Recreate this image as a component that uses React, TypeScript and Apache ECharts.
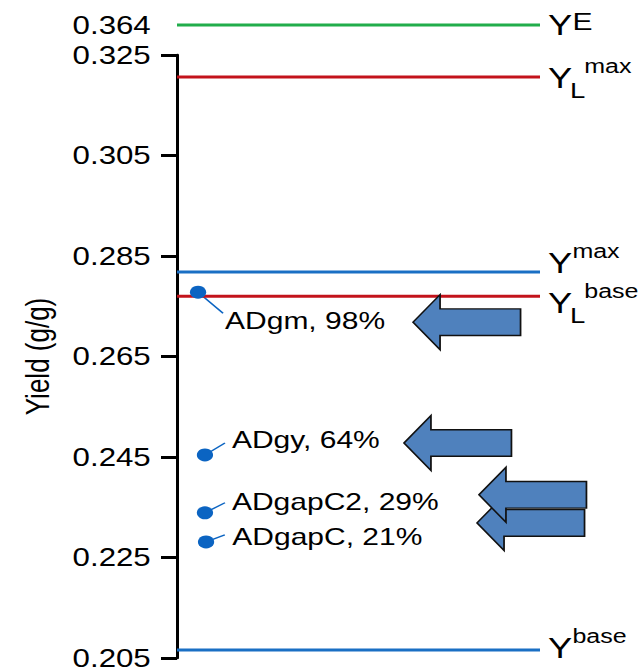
import React, { useEffect, useRef } from "react";
import * as echarts from "echarts";

// The reference figure is horizontally stretched; the chart is drawn narrower and stretched by CSS.
const STRETCH = 1.25;
const W = 644 / STRETCH;
const H = 671;
const FONT = "'Liberation Sans', Arial, Helvetica, sans-serif";

// Axis ticks
const tickValues = [0.205, 0.225, 0.245, 0.265, 0.285, 0.305, 0.325];
const brokenTickValues = [0.364];

// Reference lines
const refMain = ["Y", "Y", "Y", "Y", "Y"];
const refSub = ["", "L", "", "L", ""];
const refSup = ["E", "max", "max", "base", "base"];
const refValues = [0.364, 0.3206, 0.2818, 0.277, 0.2066];
const refColors = ["#21ad4b", "#c3131b", "#1a6fc4", "#c3131b", "#1a6fc4"];
const refOnBrokenAxis = [true, false, false, false, false];

// Strain points
const pointNames = ["ADgm", "ADgy", "ADgapC2", "ADgapC"];
const pointShares = ["98%", "64%", "29%", "21%"];
const pointYields = [0.2778, 0.2454, 0.2339, 0.2281];
const pointX = [0.058, 0.077, 0.077, 0.08];

// layout constants (pixels, unstretched)
const labelDelta = [[21.6, 28], [21.6, -15], [21.6, -11], [21, -5]];
const connDelta = [[20, 21], [16, -12], [16, -10], [15, -7]];
const arrowTipDelta = [[172, 30], [159.2, -12], [219.2, -18], [216.8, -19]];
const arrowOrder = [0, 1, 3, 2];
const refYBaseline = [10, 11, 1, 17, 8];

const POINT_BLUE = "#0b64c2";
const SYM = 13;
const SUP_FS = 20;

export default function App() {
  const ref = useRef<HTMLDivElement>(null);
  useEffect(() => {
    if (!ref.current) return;
    const chart = echarts.init(ref.current, null, { renderer: "svg" });
    const gridLeft = 141.6;
    const gridWidth = 290.4;
    const series: any[] = [];
    refValues.forEach((v, i) => {
      const top = refOnBrokenAxis[i];
      series.push({
        type: "line",
        xAxisIndex: top ? 1 : 0,
        yAxisIndex: top ? 1 : 0,
        data: [
          [0, v],
          [1, v],
        ],
        symbol: "none",
        lineStyle: { color: refColors[i], width: 3 },
        silent: true,
        z: 1,
      });
    });
    series.push({
      type: "scatter",
      xAxisIndex: 0,
      yAxisIndex: 0,
      symbolSize: SYM,
      itemStyle: { color: POINT_BLUE, opacity: 1 },
      z: 5,
      data: pointYields.map((v, i) => ({
        value: [pointX[i], v],
        label: {
          show: true,
          position: "right",
          distance: 0,
          offset: [labelDelta[i][0] - SYM / 2, labelDelta[i][1]],
          formatter: `${pointNames[i]}, ${pointShares[i]}`,
          fontSize: 24,
          fontFamily: FONT,
          color: "#000",
          opacity: 1,
        },
      })),
    });

    const option: any = {
      animation: false,
      backgroundColor: "#fff",
      grid: [
        { left: gridLeft, width: gridWidth, top: 55, height: 603 },
        { left: gridLeft, width: gridWidth, top: 15, height: 20 },
      ],
      xAxis: [
        { type: "value", gridIndex: 0, min: 0, max: 1, show: false },
        { type: "value", gridIndex: 1, min: 0, max: 1, show: false },
      ],
      yAxis: [
        {
          type: "value",
          gridIndex: 0,
          min: 0.205,
          max: 0.325,
          name: "Yield (g/g)",
          nameLocation: "middle",
          nameGap: 99,
          nameTextStyle: { fontSize: 26, fontFamily: FONT, color: "#000" },
          axisLine: { show: true, lineStyle: { color: "#000", width: 2.4 } },
          axisTick: {
            show: true,
            customValues: tickValues,
            length: 12.8,
            lineStyle: { color: "#000", width: 3 },
          },
          axisLabel: {
            customValues: tickValues,
            margin: 21,
            fontSize: 25,
            fontFamily: FONT,
            color: "#000",
            formatter: (v: number) => v.toFixed(3),
          },
          splitLine: { show: false },
        },
        {
          type: "value",
          gridIndex: 1,
          min: 0.354,
          max: 0.374,
          axisLine: { show: false },
          axisTick: { show: false },
          axisLabel: {
            customValues: brokenTickValues,
            margin: 21,
            fontSize: 25,
            fontFamily: FONT,
            color: "#000",
            formatter: (v: number) => v.toFixed(3),
          },
          splitLine: { show: false },
        },
      ],
      series,
    };
    chart.setOption(option);

    const graphics: any[] = [];
    const pts = pointYields.map(
      (v, i) => chart.convertToPixel({ gridIndex: 0 }, [pointX[i], v]) as number[]
    );
    pts.forEach((p, i) => {
      graphics.push({
        type: "line",
        shape: { x1: p[0], y1: p[1], x2: p[0] + connDelta[i][0], y2: p[1] + connDelta[i][1] },
        style: { stroke: POINT_BLUE, lineWidth: 1.4 },
        z: 1,
      });
    });
    const HL = 21.6;
    const L = 86;
    const HH = 27.5;
    const SH = 13.3;
    arrowOrder.forEach((i) => {
      const p = pts[i];
      const tx = p[0] + arrowTipDelta[i][0];
      const ty = p[1] + arrowTipDelta[i][1];
      graphics.push({
        type: "polygon",
        shape: {
          points: [
            [tx, ty],
            [tx + HL, ty - HH],
            [tx + HL, ty - SH],
            [tx + L, ty - SH],
            [tx + L, ty + SH],
            [tx + HL, ty + SH],
            [tx + HL, ty + HH],
          ],
        },
        style: { fill: "#4f81bd", stroke: "#111", lineWidth: 1.4 },
        z: 3,
      });
    });
    refValues.forEach((v, i) => {
      const top = refOnBrokenAxis[i];
      const p = chart.convertToPixel({ gridIndex: top ? 1 : 0 }, [1, v]) as number[];
      const x0 = p[0] + 6.4;
      const base = p[1] + refYBaseline[i];
      graphics.push({
        type: "text",
        x: x0,
        y: base - 0.35 * 29,
        style: { text: refMain[i], fontSize: 29, fontFamily: FONT, fill: "#000", align: "left", verticalAlign: "middle" },
        z: 4,
      });
      if (refSub[i]) {
        graphics.push({
          type: "text",
          x: x0 + 17.6,
          y: base + 9 - 0.35 * SUP_FS,
          style: { text: refSub[i], fontSize: SUP_FS + 2, fontFamily: FONT, fill: "#000", align: "left", verticalAlign: "middle" },
          z: 4,
        });
      }
      const isE = refSup[i] === "E";
      const supFs = isE ? 24 : SUP_FS;
      const supX = refSub[i] ? 29 : 19.5;
      const supB = isE ? base - 5 : base - 15;
      graphics.push({
        type: "text",
        x: x0 + supX,
        y: supB - 0.35 * supFs,
        style: { text: refSup[i], fontSize: supFs, fontFamily: FONT, fill: "#000", align: "left", verticalAlign: "middle" },
        z: 4,
      });
    });
    chart.setOption({ graphic: graphics });

    return () => chart.dispose();
  }, []);
  return (
    <div
      ref={ref}
      style={{
        position: "fixed",
        left: 0,
        top: 0,
        width: W,
        height: H,
        transform: `scaleX(${STRETCH})`,
        transformOrigin: "0 0",
        background: "#fff",
      }}
    />
  );
}
